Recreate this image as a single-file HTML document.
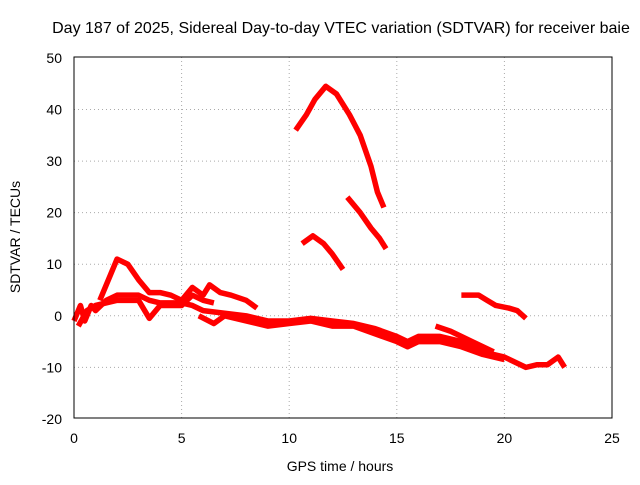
<!DOCTYPE html>
<html><head><meta charset="utf-8"><style>
body{margin:0;background:#fff;}
svg text{font-family:"Liberation Sans",sans-serif;font-size:14px;fill:#000;}
</style></head><body>
<svg id="chart" width="640" height="480">
<rect width="640" height="480" fill="#fff"/>
<text x="341" y="33" text-anchor="middle" style="font-size:16px">Day 187 of 2025, Sidereal Day-to-day VTEC variation (SDTVAR) for receiver baie</text>
<g id="grid"></g><g id="series"></g>
<rect x="74" y="57" width="538" height="361" fill="none" stroke="#000" stroke-width="1"/>
<text x="340" y="471" text-anchor="middle">GPS time / hours</text>
<text transform="translate(20,237) rotate(-90)" text-anchor="middle">SDTVAR / TECUs</text>
</svg>
<script>
const xTicks=[0,5,10,15,20,25];
const yTicks=[-20,-10,0,10,20,30,40,50];
const track1=[[10.3,36],[10.8,39],[11.2,42],[11.7,44.5],[12.2,43],[12.8,39],[13.3,35],[13.8,29],[14.1,24],[14.4,21]];
const track2=[[12.7,23],[13.3,20],[13.8,17],[14.2,15],[14.5,13]];
const track3=[[10.6,14],[11.1,15.5],[11.6,14],[12,12],[12.5,9]];
const track4=[[18,4],[18.8,4],[19.2,3],[19.6,2],[20.2,1.5],[20.6,1],[21,-0.5]];
const track5=[[0,-1],[0.3,2],[0.5,-1],[0.8,2],[1,1],[1.5,3],[2,4],[2.5,4],[3,4],[3.5,3],[4,2.5],[5,2.5],[5.5,2],[6,1],[7,0.5],[8,0],[9,-1],[10,-1],[11,-0.5],[12,-1],[13,-1.5],[14,-2.5],[15,-4],[15.5,-5],[16,-4],[17,-4],[18,-5],[19,-7],[20,-8],[21,-10],[21.5,-9.5],[22,-9.5],[22.5,-8],[22.8,-10]];
const track6=[[1.2,3],[1.7,8],[2,11],[2.5,10],[3,7],[3.5,4.5],[4,4.5],[4.5,4],[5,3],[5.5,5.5],[6,4],[6.3,6],[6.8,4.5],[7.3,4],[8,3],[8.5,1.5]];
const track7=[[0.2,-2],[0.6,1],[1,2],[2,3],[3,3],[3.5,-0.5],[4,2],[5,2],[5.5,4],[6,3],[6.5,2.5]];
const track8=[[5.8,0],[6.5,-1.5],[7,0],[8,-1],[9,-2],[10,-1.5],[11,-1],[12,-2],[13,-2],[14,-3.5],[15,-5],[15.5,-6],[16,-5],[17,-5],[18,-6],[19,-7.5],[20,-8.5]];
const track9=[[16.8,-2],[17.5,-3],[18.5,-5],[19.5,-7]];
const tracks=[track1,track2,track3,track4,track5,track6,track7,track8,track9];
const X=v=>74+v*538/25, Y=v=>315.8-v*361/70;
const ns="http://www.w3.org/2000/svg";
const grid=document.getElementById('grid'), ser=document.getElementById('series');
xTicks.forEach(t=>{
 if(t>0&&t<25){const l=document.createElementNS(ns,'line');
 
 
 l.setAttribute('x1',X(t));l.setAttribute('x2',X(t));l.setAttribute('y1',57);l.setAttribute('y2',418);
 l.setAttribute('stroke','#aaa');l.setAttribute('stroke-dasharray','1,3');grid.appendChild(l);}
 const tx=document.createElementNS(ns,'text');
 
 
 tx.setAttribute('x',X(t));tx.setAttribute('y',443);tx.setAttribute('text-anchor','middle');tx.textContent=t;grid.appendChild(tx);
});
yTicks.forEach(t=>{
 if(t>-20&&t<50){const l=document.createElementNS(ns,'line');
 
 
 l.setAttribute('x1',74);l.setAttribute('x2',612);l.setAttribute('y1',Y(t));l.setAttribute('y2',Y(t));
 l.setAttribute('stroke','#aaa');l.setAttribute('stroke-dasharray','1,3');grid.appendChild(l);}
 const tx=document.createElementNS(ns,'text');
 
 
 tx.setAttribute('x',62);tx.setAttribute('y',Y(t)+5);tx.setAttribute('text-anchor','end');tx.textContent=t;grid.appendChild(tx);
});
tracks.forEach(tr=>{
 const p=document.createElementNS(ns,'polyline');
 
 
 p.setAttribute('points',tr.map(d=>X(d[0])+','+Y(d[1])).join(' '));
 p.setAttribute('fill','none');p.setAttribute('stroke','#f00');p.setAttribute('stroke-width','5.5');
 p.setAttribute('stroke-linejoin','round');ser.appendChild(p);
});
</script>
</body></html>
